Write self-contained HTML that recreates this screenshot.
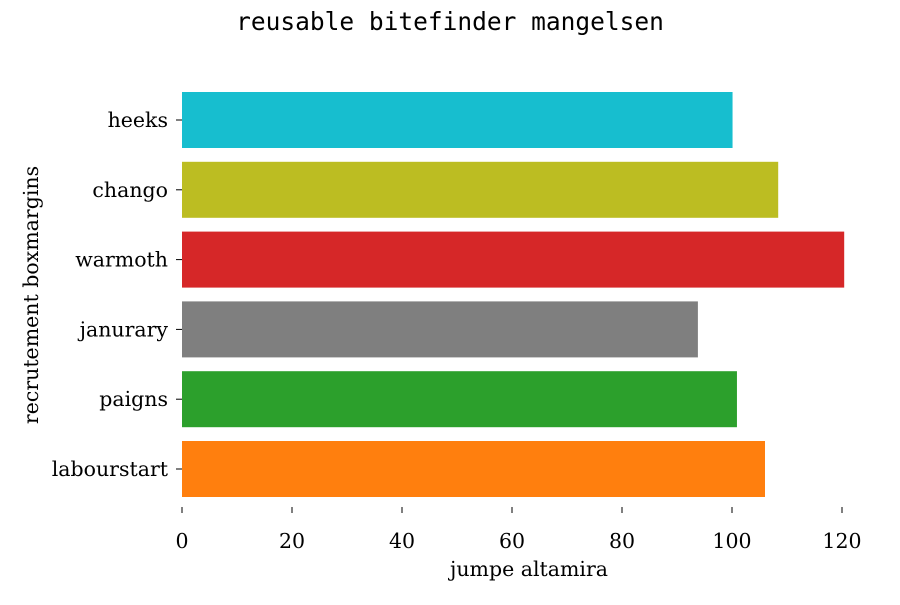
<!DOCTYPE html>
<html><head><meta charset="utf-8"><style>
body{margin:0;background:#fff;}
svg text{font-family:"DejaVu Serif","Liberation Serif",serif;fill:#000;}
</style></head><body>
<svg id="chart" width="900" height="600">
<text x="450" y="30" text-anchor="middle" style="font-family:'DejaVu Sans Mono','Liberation Mono',monospace;font-size:24.5px">reusable bitefinder mangelsen</text>
<g id="bars"></g><g id="yaxis"></g><g id="xaxis"></g>
<text x="529" y="576" text-anchor="middle" font-size="20.5">jumpe altamira</text>
<text transform="translate(38,295) rotate(-90)" text-anchor="middle" font-size="20.5">recrutement boxmargins</text>
</svg>
<script>
const categories=["labourstart","paigns","janurary","warmoth","chango","heeks"];
const values=[106,100.9,93.8,120.4,108.4,100.1];
const colors=["#ff7f0e","#2ca02c","#7f7f7f","#d62728","#bcbd22","#17becf"];
const xTicks=[0,20,40,60,80,100,120];
const NS="http://www.w3.org/2000/svg";
const x=v=>182+v*5.5;
const band=69.8, yc=i=>469-i*band, bh=56;
function mk(t,a,p){const e=document.createElementNS(NS,t);for(const k in a)e.setAttribute(k,a[k]);document.getElementById(p).appendChild(e);return e;}
categories.forEach((c,i)=>{
 const r=mk('rect',{x:x(0),y:yc(i)-bh/2,width:x(values[i])-x(0),height:bh,fill:colors[i]},'bars');
 
 
 const tk=mk('line',{x1:176,x2:182,y1:yc(i),y2:yc(i),stroke:'#000','stroke-width':1},'yaxis');
 
 
 const t=mk('text',{x:168,y:yc(i)+7,'text-anchor':'end','font-size':20.5},'yaxis');
 t.textContent=c;
 
 
});
xTicks.forEach(v=>{
 const tk=mk('line',{x1:x(v),x2:x(v),y1:507,y2:513,stroke:'#000','stroke-width':1},'xaxis');
 
 
 const t=mk('text',{x:x(v),y:548,'text-anchor':'middle','font-size':20.5},'xaxis');
 t.textContent=v;
 
 
});
</script>
</body></html>
